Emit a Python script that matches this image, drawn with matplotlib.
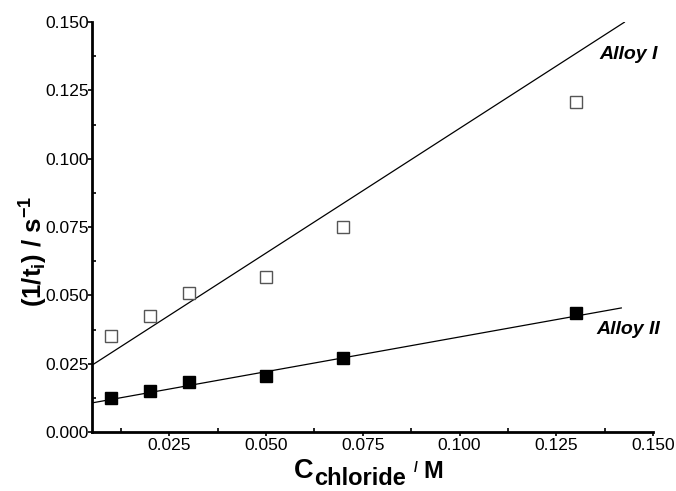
import numpy as np
import matplotlib
matplotlib.use("Agg")
import matplotlib.pyplot as plt
from matplotlib.ticker import MultipleLocator, FormatStrFormatter

plt.rcParams["font.family"] = ["Liberation Sans", "DejaVu Sans"]
plt.rcParams["mathtext.fontset"] = "custom"
plt.rcParams["mathtext.rm"] = "Liberation Sans"
plt.rcParams["mathtext.it"] = "Liberation Sans:italic"
plt.rcParams["mathtext.bf"] = "Liberation Sans:bold"

# Chloride concentration (M)
conc = [0.010, 0.020, 0.030, 0.050, 0.070, 0.130]
# Inverse induction time (1/s)
alloy1 = [0.0351, 0.0423, 0.0510, 0.0567, 0.0749, 0.1206]
alloy2 = [0.0126, 0.0150, 0.0182, 0.0204, 0.0270, 0.0434]

# Straight-line fits: intercept, slope and x extent
fit1 = (0.0199, 0.912)
fit2 = (0.0094, 0.254)
fit_x = [0.005, 0.1426]
fit_x2 = [0.005, 0.1418]

W, H = 676, 491
fig = plt.figure(figsize=(W / 100, H / 100), dpi=100)
ax = fig.add_axes([0.136, 0.120, 0.830, 0.835])

x1 = np.array(fit_x)
x2 = np.array(fit_x2)
ax.plot(x1, fit1[0] + fit1[1] * x1, color="black", lw=0.9, zorder=2)
ax.plot(x2, fit2[0] + fit2[1] * x2, color="black", lw=0.9, zorder=2)

ax.plot(conc, alloy1, ls="none", marker="s", ms=8, mfc="white",
        mec="#555555", mew=1.0, zorder=3)
ax.plot(conc, alloy2, ls="none", marker="s", ms=8, mfc="black",
        mec="black", mew=1.0, zorder=3)

ax.text(0.1436, 0.138, "Alloy I", fontsize=14, fontweight="bold",
        fontstyle="italic", ha="center", va="center")
ax.text(0.1436, 0.0377, "Alloy II", fontsize=14, fontweight="bold",
        fontstyle="italic", ha="center", va="center")

ax.set_xlim(0.005, 0.150)
ax.set_ylim(0.0, 0.150)
ax.xaxis.set_major_locator(MultipleLocator(0.025))
ax.xaxis.set_minor_locator(MultipleLocator(0.0125))
ax.yaxis.set_major_locator(MultipleLocator(0.025))
ax.yaxis.set_minor_locator(MultipleLocator(0.0125))
ax.xaxis.set_major_formatter(FormatStrFormatter("%.3f"))
ax.yaxis.set_major_formatter(FormatStrFormatter("%.3f"))

for s in ("top", "right"):
    ax.spines[s].set_visible(False)
for s in ("left", "bottom"):
    ax.spines[s].set_linewidth(2.0)

ax.tick_params(which="major", direction="out", length=3, width=1.2,
               labelsize=12.5)
ax.tick_params(axis="y", which="major", pad=-1)
ax.tick_params(axis="x", which="major", pad=1)
ax.tick_params(which="minor", direction="in", length=3, width=1.2)

# y-axis title
ax.set_ylabel(r"(1/t$_{\mathbf{i}}$) / s$^{\mathbf{-1}}$", fontsize=18.5,
              fontweight="bold")
ax.yaxis.set_label_coords(-0.075, 0.44)

# x-axis title assembled from pieces (large C, subscript, small slash),
# each piece starting where the previous one ends
renderer = fig.canvas.get_renderer()
pieces = [("C", 19.5, 0, 0), ("chloride", 17, 7, 1),
          ("/", 10, -6, 8), ("M", 17, 0, 5)]
px = 294
base = 478
for s, size, dy, gap in pieces:
    px += gap
    t = fig.text(px / W, 1 - (base + dy) / H, s, fontsize=size,
                 fontweight="bold", ha="left", va="baseline")
    bb = t.get_window_extent(renderer)
    px = bb.x1

fig.savefig("out.png", dpi=100)
